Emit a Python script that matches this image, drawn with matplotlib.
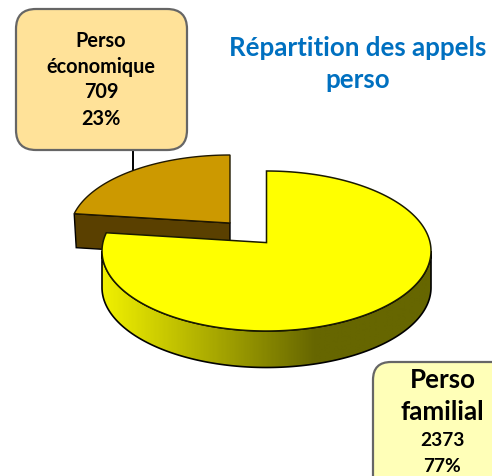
import matplotlib
matplotlib.use('Agg')
import matplotlib.pyplot as plt
from matplotlib.patches import FancyBboxPatch, Polygon
from matplotlib.colors import LinearSegmentedColormap
import numpy as np

# data
categories = ['Perso\néconomique', 'Perso\nfamilial']
values = [709, 2373]
percents = ['23%', '77%']
title = 'Répartition des appels\nperso'

plt.rcParams['font.family'] = ['Lato', 'DejaVu Sans']
plt.rcParams['font.weight'] = 'bold'

W, H = 492, 476


def rim(cx, cy, rx, ry, lift, a0, a1, n=200):
    # points of the ellipse edge seen from the (lifted) apex of the slice
    pts = []
    for a in np.radians(np.linspace(a0, a1, n)):
        dx, dy = np.cos(a), np.sin(a)
        b = lift * dy
        t = -b + np.sqrt(b * b - (lift * lift - 1))
        pts.append((cx + rx * t * dx, cy - ry * (lift + t * dy)))
    return np.array(pts)


fig = plt.figure(figsize=(W / 100, H / 100), dpi=100)
ax = fig.add_axes([0, 0, 1, 1])
ax.set_xlim(0, W)
ax.set_ylim(H, 0)
ax.axis('off')

# slice angles, clockwise from 12 o'clock
total = sum(values)
fam_sweep = 360 * values[1] / total
fam_end = 90 - fam_sweep + 360

# economic slice
ecx, ecy, erx, ery, lift, depth = 230, 231, 160, 76, 0.105, 34
apex_e = np.array([ecx, ecy - ery * lift])
eco = rim(ecx, ecy, erx, ery, lift, fam_end, 90)
left = eco[0]
ax.add_patch(Polygon([left, apex_e, apex_e + [0, depth], left + [2, depth]],
                     fc='#5a4000', ec='black', lw=1, zorder=2))
ax.add_patch(Polygon(np.vstack([eco, apex_e]), fc='#cc9900', ec='#201800', lw=1,
                     joinstyle='miter', zorder=3))

# connector
ax.plot([133, 133], [150, 172], color='black', lw=1.4, zorder=1)

# familial slice
fcx, fcy, frx, fry, fdepth = 266.5, 251, 164.5, 80, 36.5
fam = rim(fcx, fcy, frx, fry, lift, 90, fam_end - 360, 400)
apex_f = np.array([fcx, fcy - fry * lift])

t = np.radians(np.linspace(180, 360, 200))
low_x = fcx + frx * np.cos(t)
low_y = fcy - fry * np.sin(t)
side = np.vstack([np.column_stack([low_x, low_y]),
                  np.column_stack([low_x, low_y + fdepth])[::-1]])
side_patch = Polygon(side, fc='none', ec='black', lw=1.2, zorder=4)
ax.add_patch(side_patch)
cmap = LinearSegmentedColormap.from_list('side', [(0, '#f0f000'), (0.1, '#dcdc00'),
                                                  (0.65, '#666600'), (1, '#666600')])
grad = np.linspace(0, 1, 330).reshape(1, -1)
im = ax.imshow(grad, cmap=cmap, extent=(102, 431, 370, 240), aspect='auto', zorder=3.5)
im.set_clip_path(side_patch)
ax.set_xlim(0, W)
ax.set_ylim(H, 0)

ax.add_patch(Polygon(np.vstack([fam, apex_f]), fc='#ffff00', ec='#1a1a00', lw=1.1,
                     joinstyle='miter', zorder=5))

# label boxes
ax.add_patch(FancyBboxPatch((36, 29), 131, 101, boxstyle='round,pad=20,rounding_size=20',
                            fc='#ffe299', ec='#666666', lw=1.6, zorder=6))
ax.add_patch(FancyBboxPatch((391, 380), 140, 120, boxstyle='round,pad=18,rounding_size=18',
                            fc='#ffffb8', ec='#666666', lw=1.6, zorder=6, clip_on=True))

eco_lines = categories[0].split('\n') + [str(values[0]), percents[0]]
for txt, y in zip(eco_lines, [41, 67, 92, 119]):
    ax.text(101, y, txt, fontsize=14.3, ha='center', va='center', color='black', zorder=7)

fam_lines = categories[1].split('\n') + [str(values[1]), percents[1]]
for txt, y, fs in zip(fam_lines, [380, 412, 441, 467], [18.6, 18.6, 13.8, 13.8]):
    ax.text(442.5, y, txt, fontsize=fs, ha='center', va='center', color='black', zorder=7)

ax.text(357.5, 64, title, fontsize=18.6, ha='center', va='center', color='#0070c0',
        linespacing=1.36, zorder=7)

fig.savefig('out.png', dpi=100)
